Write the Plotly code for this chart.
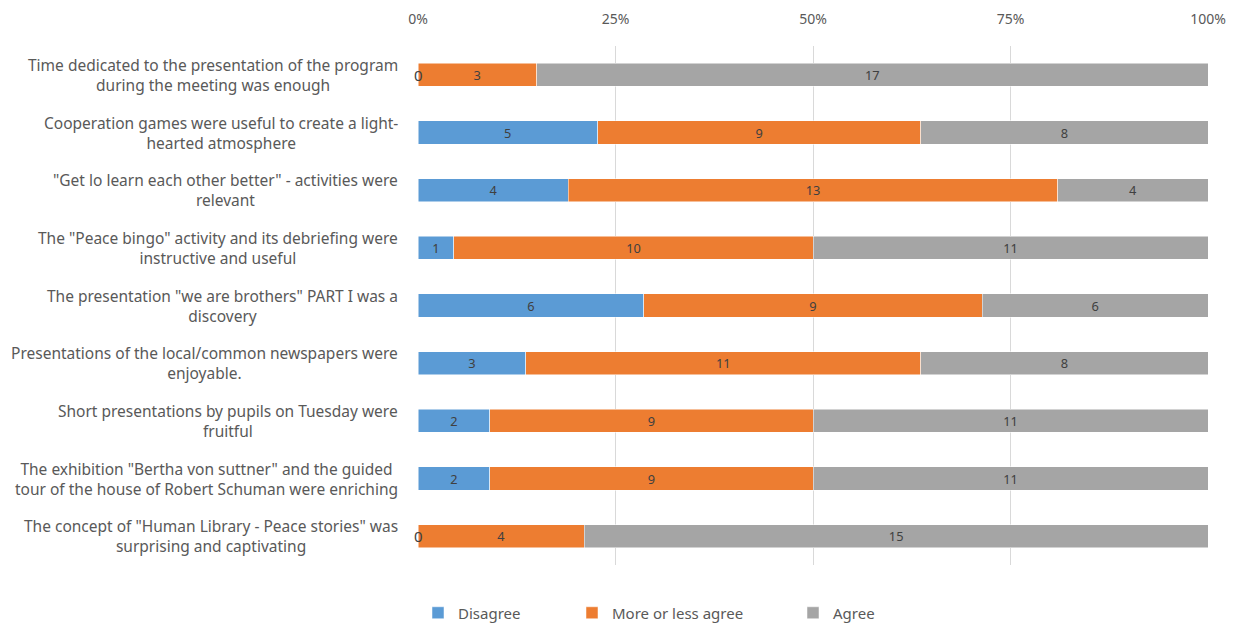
import plotly.graph_objects as go

categories = [
    "Time dedicated to the presentation of the program<br>during the meeting was enough",
    "Cooperation games were useful to create a light-<br>hearted atmosphere",
    "\"Get lo learn each other better\" - activities were<br>relevant",
    "The \"Peace bingo\" activity and its debriefing were<br>instructive and useful",
    "The presentation \"we are brothers\" PART I was a<br>discovery",
    "Presentations of the local/common newspapers were<br>enjoyable.",
    "Short presentations by pupils on Tuesday were<br>fruitful",
    "The exhibition \"Bertha von suttner\" and the guided<br>tour of the house of Robert Schuman were enriching",
    "The concept of \"Human Library - Peace stories\" was<br>surprising and captivating",
]
disagree = [0, 5, 4, 1, 6, 3, 2, 2, 0]
more_or_less = [3, 9, 13, 10, 9, 11, 9, 9, 4]
agree = [17, 8, 4, 11, 6, 8, 11, 11, 15]
series_names = ["Disagree", "More or less agree", "Agree"]
colors = ["#5B9BD5", "#ED7D31", "#A5A5A5"]
tick_vals = [0, 25, 50, 75, 100]
tick_text = ["0%", "25%", "50%", "75%", "100%"]

FONT = "Noto Sans"
TXT = "#404040"
GREY = "#595959"

fig = go.Figure()
legends = ["legend", "legend2", "legend3"]
for name, vals, col, lg in zip(series_names, [disagree, more_or_less, agree], colors, legends):
    fig.add_trace(go.Bar(
        y=categories, x=vals, name=name, orientation="h",
        marker=dict(color=col, line=dict(color="white", width=0.5)),
        text=[str(v) if v else "" for v in vals],
        textposition="inside", insidetextanchor="middle", textangle=0,
        textfont=dict(family=FONT, size=15, color=TXT),
        legend=lg,
    ))

annotations = []
for cat in categories:
    annotations.append(dict(
        x=0, xref="paper", y=cat, yref="y", text=cat, showarrow=False,
        xanchor="right", yanchor="middle", align="center", xshift=-18,
        font=dict(family=FONT, size=15.5, color=GREY),
    ))
for cat, v in zip(categories, disagree):
    if v == 0:
        annotations.append(dict(
            x=0, xref="x", y=cat, yref="y", text="0", showarrow=False,
            xanchor="center", yanchor="middle",
            font=dict(family=FONT, size=15, color=TXT),
        ))

L, W = 418, 790
def px(xp):
    return (xp - L) / W

leg_common = dict(orientation="h", yref="container", yanchor="middle", y=(623 - 613) / 623,
                  xanchor="left",
                  font=dict(family=FONT, size=15, color=GREY), itemwidth=30,
                  bgcolor="rgba(0,0,0,0)")

fig.update_layout(
    barmode="stack", barnorm="percent", bargap=0.6,
    width=1235, height=623,
    margin=dict(l=418, r=27, t=46, b=58, autoexpand=False),
    paper_bgcolor="white", plot_bgcolor="white",
    xaxis=dict(side="top", range=[0, 100], tickvals=tick_vals, ticktext=tick_text,
               showgrid=True, gridcolor="#D9D9D9", gridwidth=1, zeroline=False,
               showline=False, ticks="outside", ticklen=15, tickcolor="rgba(0,0,0,0)",
               tickfont=dict(family=FONT, size=14, color=GREY)),
    yaxis=dict(categoryorder="array", categoryarray=categories, autorange="reversed",
               showticklabels=False, showgrid=False, ticks="", showline=False, zeroline=False),
    annotations=annotations,
    legend=dict(leg_common, x=px(458 - 40)),
    legend2=dict(leg_common, x=px(612 - 40)),
    legend3=dict(leg_common, x=px(833 - 40)),
    showlegend=True,
)

fig.write_html("out.html")
